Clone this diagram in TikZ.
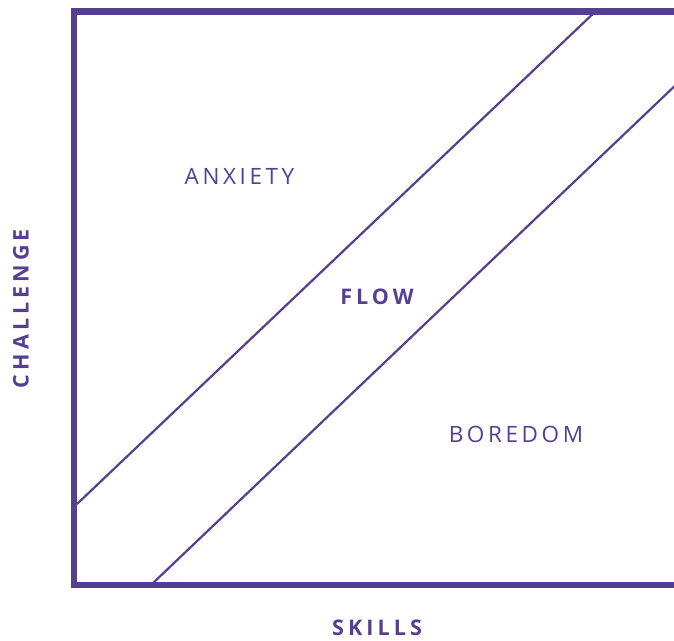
\documentclass[tikz,border=0pt]{standalone}
\usepackage{fontspec}
\setmainfont{Open Sans}
\definecolor{plum}{RGB}{85,63,145}
\begin{document}
\begin{tikzpicture}[x=1pt,y=-1pt,
  frame/.style={draw=plum,line width=6.5pt},
  band/.style={draw=plum,line width=2.2pt},
  zone/.style={text=plum,font=\fontsize{22.5}{22.5}\selectfont\addfontfeatures{LetterSpace=16},inner sep=0pt},
  axis/.style={text=plum,font=\fontsize{21.5}{21.5}\selectfont\bfseries\addfontfeatures{LetterSpace=19},inner sep=0pt}]
\useasboundingbox (0,0) rectangle (674,640);
\clip (0,0) rectangle (674,640);
% chart frame (open on the right)
\coordinate (tr) at (700,11.5);
\coordinate (tl) at (74,11.5);
\coordinate (bl) at (74,585);
\coordinate (br) at (700,585);
\draw[frame,line cap=rect] (tr) -- (tl) -- (bl) -- (br);
% flow channel boundaries
\coordinate (a1) at (77,504);
\coordinate (a2) at (598,9);
\coordinate (b1) at (152,584);
\coordinate (b2) at (680,81);
\draw[band] (a1) -- (a2);
\draw[band] (b1) -- (b2);
% region labels
\node[zone] (anx) at (239.5,176) {ANXIETY};
\node[axis] (flow) at (377,297) {FLOW};
\node[zone] (bor) at (516,434) {BOREDOM};
% axis labels
\node[axis] (skills) at (377,628) {SKILLS};
\node[axis,rotate=90] (chal) at (21,308.5) {CHALLENGE};
\end{tikzpicture}
\end{document}
